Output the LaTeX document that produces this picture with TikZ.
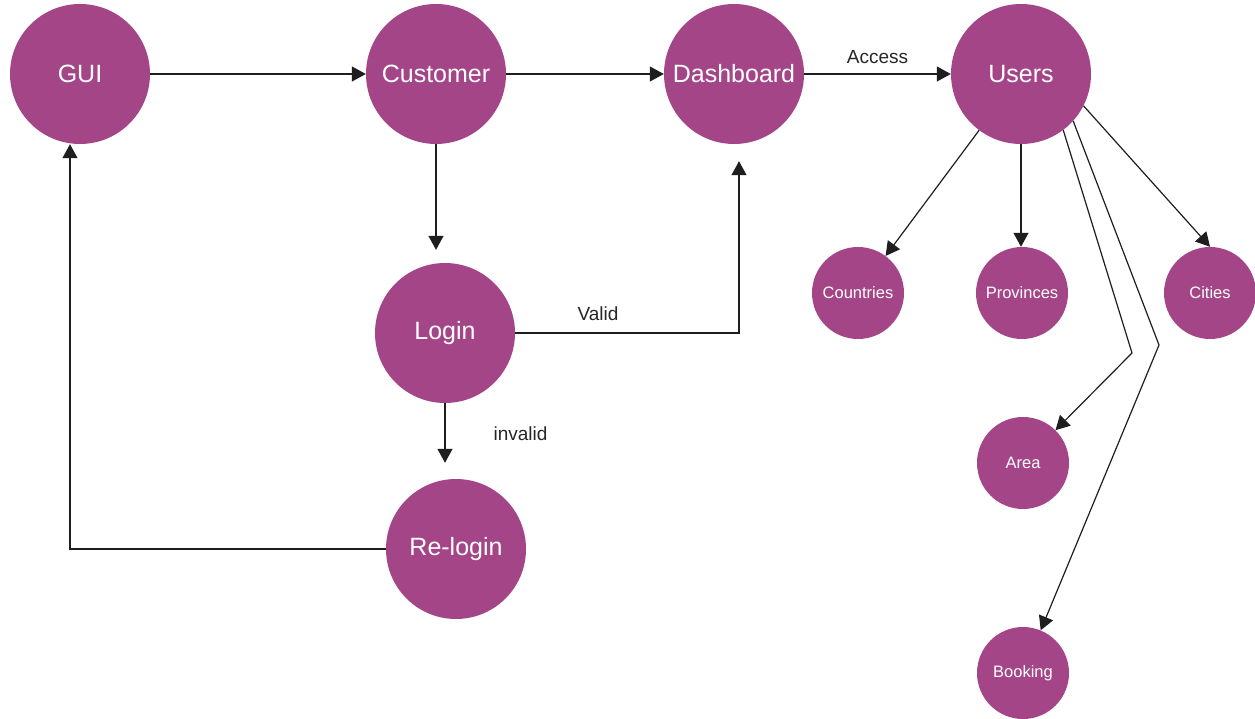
\documentclass[tikz,border=0pt]{standalone}
\usepackage{fontspec}
\setmainfont{Liberation Sans}
\usetikzlibrary{arrows.meta}
\definecolor{bubble}{RGB}{164,69,136}
\definecolor{wire}{RGB}{30,30,30}
\tikzset{
  big/.style={circle, fill=bubble, draw=none, inner sep=0pt, minimum size=140pt,
              text=white, font=\fontsize{25}{29}\selectfont},
  small/.style={circle, fill=bubble, draw=none, inner sep=0pt, minimum size=92pt,
              text=white, font=\fontsize{16.5}{19}\selectfont},
  arr/.style={draw=wire, line width=1.2pt, -{Triangle[length=14pt,width=15pt]}},
  lbl/.style={font=\fontsize{19}{22}\selectfont, text=black!85, inner sep=0pt}
}
\begin{document}
\begin{tikzpicture}[x=1pt, y=-1pt]
  \useasboundingbox (0,0) rectangle (1255,719);
  \fill[white] (0,0) rectangle (1255,719);

  % main flow
  \node[big] (gui)   at (80,74)   {GUI};
  \node[big] (cust)  at (436,74)  {Customer};
  \node[big] (dash)  at (734,74)  {Dashboard};
  \node[big] (users) at (1021,74) {Users};
  \node[big] (login) at (445,333) {Login};
  \node[big] (relog) at (456,549) {Re-login};

  % entities reached from Users
  \node[small] (countries) at (858,293)  {Countries};
  \node[small] (provinces) at (1022,293) {Provinces};
  \node[small] (cities)    at (1210,293) {Cities};
  \node[small] (area)      at (1023,463) {Area};
  \node[small] (booking)   at (1023,673) {Booking};

  % bend points of the long Users branches
  \coordinate (bendA) at (1132,353);
  \coordinate (bendB) at (1159,345);

  % top row
  \draw[arr] (gui) -- (cust);
  \draw[arr] (cust) -- (dash);
  \draw[arr] (dash) -- node[lbl, above=10pt, pos=0.5] {Access} (users);

  % login branch
  \draw[arr, shorten >=13pt] (cust.south) -- (cust.south |- login.north);
  \draw[arr, shorten >=17pt] (login.east) -- node[lbl, above=12pt, pos=0.37] {Valid}
        ([xshift=5pt]login.east -| dash.south) -- ([xshift=5pt]dash.south);
  \draw[arr, shorten >=16pt] (login.south) -- node[lbl, right=48pt, pos=0.4] {invalid} (login.south |- relog.north);
  \draw[arr] (relog.west) -| ([xshift=-10pt]gui.south);

  % Users branches
  \draw[arr] (users) -- (countries);
  \draw[arr] (users.south) -- (users.south |- provinces.north);
  \draw[arr] (users.-27) -- (cities.north);
  \draw[arr] (users.-53) -- (bendA) -- (area);
  \draw[arr] (users.-42) -- (bendB) -- (booking);
\end{tikzpicture}
\end{document}
